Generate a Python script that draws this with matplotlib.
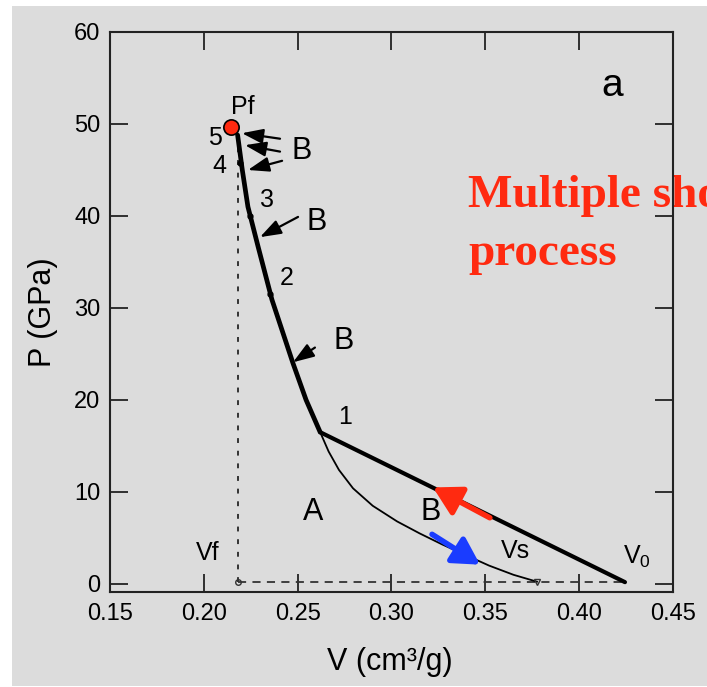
import matplotlib
matplotlib.use("Agg")
import matplotlib.pyplot as plt
from matplotlib.patches import Rectangle

plt.rcParams['font.family'] = ['Liberation Sans', 'DejaVu Sans']
plt.rcParams['mathtext.fontset'] = 'custom'
plt.rcParams['mathtext.rm'] = 'Liberation Sans'

# ----- data -----
# thick line: multiple shock path, Pf -> 1
hug_v = [0.218, 0.2205, 0.2235, 0.229, 0.2363, 0.2475, 0.2545, 0.262]
hug_p = [48.8, 45.0, 41.0, 36.6, 30.9, 24.0, 20.0, 16.5]
# thick line: first shock, 1 -> V0
shock_v = [0.262, 0.4244]
shock_p = [16.5, 0.2]
# thin curve: 1 -> Vs
rel_v = [0.262, 0.2665, 0.272, 0.2795, 0.290, 0.303, 0.315, 0.327, 0.340, 0.352, 0.365, 0.3775]
rel_p = [16.5, 14.4, 12.4, 10.4, 8.5, 6.8, 5.5, 4.3, 3.1, 2.0, 1.0, 0.25]
# points 2..4 on the thick curve
pt_v = [0.2355, 0.2245, 0.2195]
pt_p = [31.5, 40.0, 45.8]

vf, v0, vs = 0.218, 0.4244, 0.3775
pf_v, pf_p = 0.2145, 49.7

# B arrows: (tail, head)
b_arrows = [((0.2406, 48.4), (0.2203, 49.0)),
            ((0.2406, 47.0), (0.2219, 47.7)),
            ((0.2417, 46.0), (0.2235, 45.0)),
            ((0.2502, 39.9), (0.2299, 37.7)),
            ((0.2592, 25.7), (0.2475, 24.1))]
red_arrow = ((0.3524, 7.2), (0.3221, 10.5))
blue_arrow = ((0.3216, 5.4), (0.3472, 2.1))

num_labels = ['1', '2', '3', '4', '5']
num_pos = [(0.2752, 18.2), (0.2443, 33.3), (0.2337, 41.7), (0.2081, 45.4), (0.2060, 48.5)]
b_pos = [(0.2523, 47.1), (0.2603, 39.3), (0.2747, 26.4), (0.3211, 7.8)]

fig = plt.figure(figsize=(7.07, 6.87), dpi=100, facecolor='white')
fig.patches.append(Rectangle((12 / 707, 1 / 687), 1, 680 / 687, transform=fig.transFigure,
                             facecolor='#dcdcdc', edgecolor='none', zorder=-10))
ax = fig.add_axes([110 / 707, 1 - 592 / 687, 563 / 707, 560 / 687])
ax.set_facecolor('#dcdcdc')

ax.plot(hug_v, hug_p, color='black', lw=3.4, solid_capstyle='round', zorder=4)
ax.plot(shock_v, shock_p, color='black', lw=3.0, solid_capstyle='round', zorder=4)
ax.plot(rel_v, rel_p, color='black', lw=1.3, zorder=4)
ax.plot(pt_v, pt_p, 'o', color='black', ms=3.5, zorder=4)

ax.plot([vf, vf], [0.25, 48.5], color='#333333', lw=1.4, dashes=(2.5, 4), zorder=3)
ax.plot([vf, v0], [0.25, 0.25], color='#333333', lw=1.3, dashes=(4.5, 3.5), zorder=3)
ax.plot([vf], [0.25], 'o', mfc='none', mec='#333333', ms=4, mew=1, zorder=4)
ax.plot([vs], [0.25], 'v', mfc='none', mec='#333333', ms=4, mew=1, zorder=4)

ax.plot([pf_v], [pf_p], 'o', color='#ff2a10', mec='black', mew=1.2, ms=11, zorder=6)

for (t, h) in b_arrows:
    ax.annotate('', xy=h, xytext=t,
                arrowprops=dict(arrowstyle='-|>,head_length=0.8,head_width=0.28',
                                color='black', lw=1.6, mutation_scale=16, shrinkA=0, shrinkB=0),
                zorder=5)
ax.annotate('', xy=red_arrow[1], xytext=red_arrow[0],
            arrowprops=dict(arrowstyle='-|>,head_length=0.8,head_width=0.45',
                            color='#ff2a10', lw=4, mutation_scale=21, shrinkA=0, shrinkB=0),
            zorder=6)
ax.annotate('', xy=blue_arrow[1], xytext=blue_arrow[0],
            arrowprops=dict(arrowstyle='-|>,head_length=0.8,head_width=0.45',
                            color='#1a3cff', lw=4, mutation_scale=20, shrinkA=0, shrinkB=0),
            zorder=6)

for s, (x, y) in zip(num_labels, num_pos):
    ax.text(x, y, s, fontsize=18, ha='center', va='center')
for (x, y) in b_pos:
    ax.text(x, y, 'B', fontsize=22, ha='center', va='center')
ax.text(0.2582, 7.8, 'A', fontsize=22, ha='center', va='center')
ax.text(0.2209, 51.8, 'Pf', fontsize=18, ha='center', va='center')
ax.text(0.2023, 3.4, 'Vf', fontsize=18, ha='center', va='center')
ax.text(0.3663, 3.6, 'Vs', fontsize=18, ha='center', va='center')
ax.text(0.4308, 2.9, r'V$_\mathregular{0}$', fontsize=18, ha='center', va='center')
ax.text(0.4176, 54.1, 'a', fontsize=28, ha='center', va='center')

# red note, cut by the right edge like in the picture
ax.text(468 / 707, 1 - 207 / 687, 'Multiple shock', transform=fig.transFigure,
        family='Liberation Serif', weight='bold', fontsize=34, color='#ff2a10',
        va='baseline', ha='left', clip_on=False, zorder=1)
ax.text(468 / 707, 1 - 265 / 687, 'process', transform=fig.transFigure,
        family='Liberation Serif', weight='bold', fontsize=34, color='#ff2a10',
        va='baseline', ha='left', clip_on=False, zorder=1)

ax.set_xlim(0.15, 0.45)
ax.set_ylim(-0.87, 60)
ax.set_xticks([0.15, 0.20, 0.25, 0.30, 0.35, 0.40, 0.45])
ax.set_xticklabels(['0.15', '0.20', '0.25', '0.30', '0.35', '0.40', '0.45'])
ax.set_yticks([0, 10, 20, 30, 40, 50, 60])
ax.tick_params(direction='in', length=13, width=1.3, top=True, right=True,
               labelsize=17, color='#222222')
ax.tick_params(axis='x', pad=8)
ax.tick_params(axis='y', pad=7)
for sp in ax.spines.values():
    sp.set_linewidth(1.5)
    sp.set_color('#222222')

ax.set_xlabel('V (cm³/g)', fontsize=22)
ax.xaxis.set_label_coords(0.497, -0.125)
ax.xaxis.label.set_va('center')
ax.set_ylabel('P (GPa)', fontsize=22)
ax.yaxis.set_label_coords(-0.119, 0.5)
ax.yaxis.label.set_va('center')

fig.savefig('out.png', dpi=100, facecolor=fig.get_facecolor())
